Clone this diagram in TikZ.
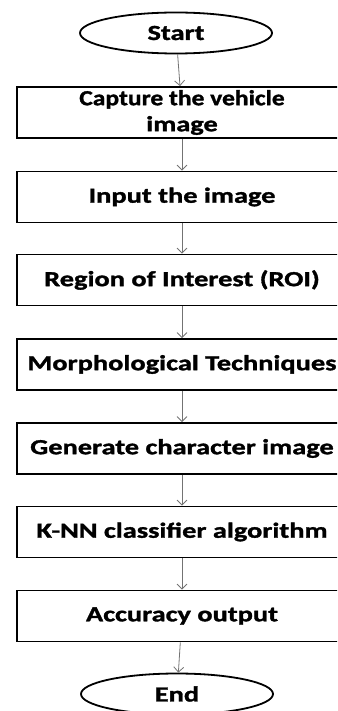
\documentclass[tikz,border=0pt]{standalone}
\usepackage{fontspec}
\usepackage{graphicx}
\setmainfont{Carlito}[FakeStretch=1.32, BoldFeatures={FakeBold=1.5}]
\usetikzlibrary{arrows.meta,shapes.geometric}
\tikzset{
  proc/.style={draw=black, line width=1.8pt, rectangle, minimum width=330pt, minimum height=51pt, inner sep=0pt, font=\fontsize{21.5}{26}\selectfont\bfseries, align=center},
  term/.style={draw=black, line width=1.8pt, ellipse, minimum width=192pt, minimum height=41pt, inner sep=0pt, font=\fontsize{21.5}{26}\selectfont\bfseries},
  conn/.style={draw=black!55, line width=0.8pt, -{Straight Barb[length=5pt,width=10pt]}}
}
\begin{document}
\begin{tikzpicture}[x=1pt,y=-1pt]
\useasboundingbox (0,0) rectangle (337,711);
\clip (0,0) rectangle (337,711);
\node[term] (start) at (176,33) {Start};
\node[proc, minimum height=51pt] (b1) at (182,112.5) {\scalebox{0.9}[1]{Capture the vehicle}\\image};
\node[proc] (b2) at (182,197) {Input the image};
\node[proc] (b3) at (182,280) {Region of Interest (ROI)};
\node[proc] (b4) at (182,364.5) {Morphological Techniques};
\node[proc] (b5) at (182,448.5) {Generate character image};
\node[proc] (b6) at (182,532) {K-NN classifier algorithm};
\node[proc] (b7) at (182,616) {Accuracy output};
\node[term] (end) at (177,694) {End};
\draw[conn] (start) -- (b1);
\draw[conn] (b1) -- (b2);
\draw[conn] (b2) -- (b3);
\draw[conn] (b3) -- (b4);
\draw[conn] (b4) -- (b5);
\draw[conn] (b5) -- (b6);
\draw[conn] (b6) -- (b7);
\draw[conn] (b7) -- (end);
\end{tikzpicture}
\end{document}
